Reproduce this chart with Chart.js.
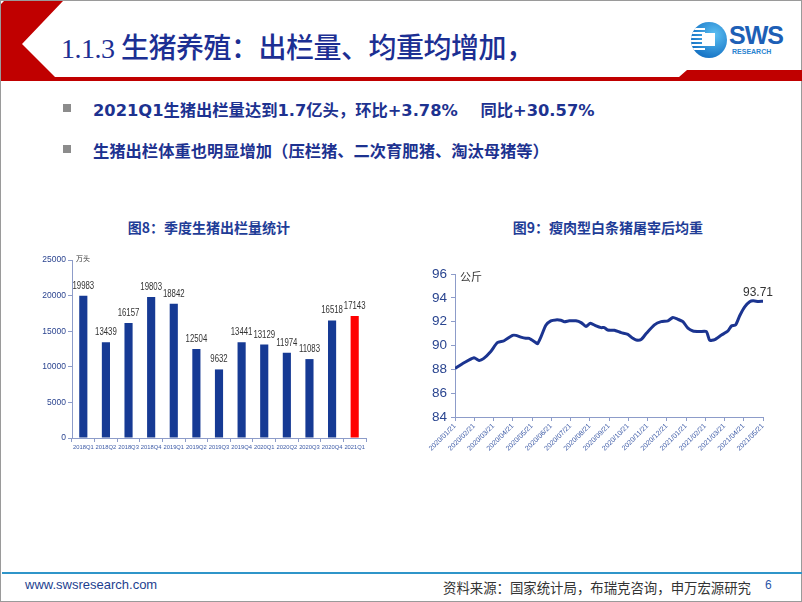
<!DOCTYPE html>
<html>
<head>
<meta charset="utf-8">
<script src="https://cdn.jsdelivr.net/npm/chart.js@4.4.0/dist/chart.umd.min.js"></script>
<style>
body{margin:0;width:802px;height:602px;overflow:hidden;background:#fff;font-family:"Noto Sans CJK SC",sans-serif;}
#slide{position:absolute;left:0;top:0;width:802px;height:602px;box-sizing:border-box;border:1px solid #9a9a9a;}
.abs{position:absolute;white-space:nowrap;}
#title{left:60px;top:25px;font-size:28px;color:#1c2f93;font-family:"Liberation Serif","Noto Sans CJK SC",serif;font-weight:500;letter-spacing:-0.5px;}
.bullet{width:8px;height:8px;background:#8c8c8c;}
.btext{font-size:16.3px;font-weight:bold;color:#1d3290;font-family:"DejaVu Sans","Noto Sans CJK SC",sans-serif;}
.ctitle{font-size:14px;font-weight:bold;color:#1f3d97;text-align:center;width:220px;}
#logoCircle{left:690px;top:21px;width:36px;height:36px;border-radius:50%;overflow:hidden;
  background:radial-gradient(circle at 65% 35%,#5cc0f2,#1a78c8 70%,#1466b4);}
#stripes{position:absolute;left:0;top:6px;width:14px;height:24px;
  background:repeating-linear-gradient(to bottom,#fff 0,#fff 2px,transparent 2px,transparent 4px);}
#square{position:absolute;left:11px;top:11px;width:13px;height:13px;background:#fff;}
#sws{left:728px;top:20px;font:bold 25px "Liberation Sans",sans-serif;color:#1d5fb6;letter-spacing:-1px;}
#research{left:731px;top:47px;font:bold 7px "Liberation Sans",sans-serif;color:#2a84d0;}
#footline{left:1px;top:571px;width:800px;height:2px;background:#2f95c9;}
#url{left:24px;top:576px;font:13px "Liberation Sans",sans-serif;color:#1d3f8f;}
#source{left:442px;top:576px;font-size:13.4px;color:#333;}
#page{left:764px;top:577px;font:12px "Liberation Sans",sans-serif;color:#2a56a8;}
canvas{position:absolute;}
</style>
</head>
<body>
<div id="slide">
  <svg class="abs" style="left:0;top:0" width="802" height="82">
    <polygon points="3,0 62,0 21,43 54,76 678,76 686,69 802,69 802,80 0,80 0,3" fill="#c00000"/>
  </svg>
  <div id="title" class="abs">1.1.3 生猪养殖：出栏量、均重均增加，</div>
  <div id="logoCircle" class="abs"><div id="stripes"></div><div id="square"></div></div>
  <div id="sws" class="abs">SWS</div>
  <div id="research" class="abs">RESEARCH</div>

  <div class="abs bullet" style="left:62px;top:103px"></div>
  <div class="abs btext" style="left:92px;top:96px">2021Q1生猪出栏量达到1.7亿头，环比+3.78%&nbsp;&nbsp;&nbsp;&nbsp;同比+30.57%</div>
  <div class="abs bullet" style="left:62px;top:144px"></div>
  <div class="abs btext" style="left:92px;top:137px">生猪出栏体重也明显增加（压栏猪、二次育肥猪、淘汰母猪等）</div>

  <div class="abs ctitle" style="left:98px;top:216px">图8：季度生猪出栏量统计</div>
  <div class="abs ctitle" style="left:497px;top:216px">图9：瘦肉型白条猪屠宰后均重</div>

  <canvas id="barChart" width="336" height="212" style="left:36px;top:250px"></canvas>
  <canvas id="lineChart" width="384" height="205" style="left:398px;top:255px"></canvas>

  <div id="footline" class="abs"></div>
  <div id="url" class="abs">www.swsresearch.com</div>
  <div id="source" class="abs">资料来源：国家统计局，布瑞克咨询，申万宏源研究</div>
  <div id="page" class="abs">6</div>
</div>

<script>
// 季度生猪出栏量（万头）
var quarters = ['2018Q1','2018Q2','2018Q3','2018Q4','2019Q1','2019Q2','2019Q3','2019Q4','2020Q1','2020Q2','2020Q3','2020Q4','2021Q1'];
var slaughter = [19983,13439,16157,19803,18842,12504,9632,13441,13129,11974,11083,16518,17143];

// 白条猪均重（公斤），位置按月计（0 = 2020/01/21）
var monthTicks = ['2020/01/21','2020/02/21','2020/03/21','2020/04/21','2020/05/21','2020/06/21','2020/07/21','2020/08/21','2020/09/21','2020/10/21','2020/11/21','2020/12/21','2021/01/21','2021/02/21','2021/03/21','2021/04/21','2021/05/21'];
var weightPos = [0,0.47,0.99,1.25,1.48,1.86,2.2,2.55,2.99,3.16,3.42,3.68,3.85,4.2,4.29,4.46,4.72,4.98,5.24,5.5,5.68,5.94,6.28,6.55,6.81,7.03,7.33,7.59,7.76,7.93,8.28,8.63,8.98,9.24,9.41,9.67,9.93,10.36,10.71,11.06,11.32,11.58,11.84,12.1,12.36,12.71,13.06,13.23,13.49,13.84,14.18,14.36,14.58,14.79,15.05,15.31,15.49,15.75,16];
var weightKg = [88.07,88.55,88.97,88.75,88.9,89.5,90.24,90.4,90.85,90.85,90.7,90.6,90.6,90.24,90.15,90.7,91.7,92.07,92.15,92.12,92.0,92.07,92.07,91.92,91.6,91.86,91.64,91.5,91.5,91.3,91.28,91.08,90.94,90.6,90.46,90.5,91.0,91.73,92.0,92.07,92.35,92.2,92.0,91.45,91.22,91.17,91.17,90.44,90.5,90.88,91.22,91.64,91.73,92.5,93.25,93.67,93.75,93.7,93.71];

Chart.defaults.font.family = '"Liberation Sans", Arial, sans-serif';
var axisColor = '#8d9cc9';

var barLabels = {
	id: 'barLabels',
	afterDatasetsDraw: function(chart) {
		var c = chart.ctx;
		var meta = chart.getDatasetMeta(0);
		c.save();
		c.font = '10px "Liberation Sans"';
		c.fillStyle = '#333';
		c.textAlign = 'center';
		c.textBaseline = 'alphabetic';
		meta.data.forEach(function(bar, i) {
			c.save();
			c.translate(bar.x, bar.y - 7);
			c.scale(0.78, 1);   // narrow digits like the original
			c.fillText(slaughter[i], 0, 0);
			c.restore();
		});
		c.font = '7px "Noto Sans CJK SC"';
		c.textAlign = 'left';
		c.textBaseline = 'middle';
		c.fillText('万头', chart.chartArea.left + 4, chart.chartArea.top - 2);
		c.restore();
	}
};

var lineLabels = {
	id: 'lineLabels',
	afterDatasetsDraw: function(chart) {
		var c = chart.ctx;
		var pts = chart.getDatasetMeta(0).data;
		var last = pts[pts.length - 1];
		c.save();
		c.fillStyle = '#333';
		c.font = '12px "Liberation Sans"';
		c.textAlign = 'center';
		c.textBaseline = 'bottom';
		c.fillText(weightKg[weightKg.length - 1].toFixed(2), last.x - 5, last.y - 3);
		c.font = '11px "Noto Sans CJK SC"';
		c.textAlign = 'left';
		c.textBaseline = 'middle';
		c.fillText('公斤', chart.chartArea.left + 5, chart.chartArea.top + 3);
		c.restore();
	}
};

new Chart(document.getElementById('barChart'), {
	type: 'bar',
	data: {
		labels: quarters,
		datasets: [{
			data: slaughter,
			backgroundColor: function(ctx) {
				return ctx.dataIndex === quarters.length - 1 ? '#ff0000' : '#163a94';
			},
			barPercentage: 0.36,
			categoryPercentage: 1
		}]
	},
	options: {
		responsive: false,
		animation: false,
		layout: { padding: { top: 9, right: 7 } },
		plugins: { legend: { display: false }, tooltip: { enabled: false } },
		scales: {
			x: {
				ticks: { font: { size: 5.8 }, color: '#3c5aa6', maxRotation: 0, autoSkip: false, padding: 2 },
				grid: { drawOnChartArea: false, tickLength: 4, color: axisColor },
				border: { color: axisColor },
				afterFit: function(s) { s.height = 25; }
			},
			y: {
				min: 0, max: 25000,
				ticks: {
					stepSize: 5000, font: { size: 8.5 }, color: '#2c4590', padding: 2,
					callback: function(v) { return String(v); }
				},
				grid: { drawOnChartArea: false, tickLength: 4, color: axisColor },
				border: { color: axisColor },
				afterFit: function(s) { s.width = 35; }
			}
		}
	},
	plugins: [barLabels]
});

new Chart(document.getElementById('lineChart'), {
	type: 'line',
	data: {
		datasets: [{
			data: weightPos.map(function(x, i) { return { x: x, y: weightKg[i] }; }),
			borderColor: '#1b3490',
			borderWidth: 3,
			pointRadius: 0,
			tension: 0.2,
			fill: false
		}]
	},
	options: {
		responsive: false,
		animation: false,
		layout: { padding: { top: 18, right: 20 } },
		plugins: { legend: { display: false }, tooltip: { enabled: false } },
		scales: {
			x: {
				type: 'linear', min: 0, max: monthTicks.length - 1,
				afterBuildTicks: function(s) {
					s.ticks = monthTicks.map(function(t, i) { return { value: i }; });
				},
				ticks: {
					callback: function(v) { return monthTicks[v]; },
					minRotation: 45, maxRotation: 45, autoSkip: false,
					font: { size: 7 }, color: '#3c5aa6', padding: 1
				},
				grid: { drawOnChartArea: false, tickLength: 4, color: axisColor },
				border: { color: axisColor },
				afterFit: function(s) { s.height = 44; }
			},
			y: {
				min: 84, max: 96,
				ticks: { stepSize: 2, font: { size: 13.5 }, color: '#2a4590', padding: 4 },
				grid: { drawOnChartArea: false, tickLength: 4, color: axisColor },
				border: { color: axisColor },
				afterFit: function(s) { s.width = 56; }
			}
		}
	},
	plugins: [lineLabels]
});
</script>
</body>
</html>
